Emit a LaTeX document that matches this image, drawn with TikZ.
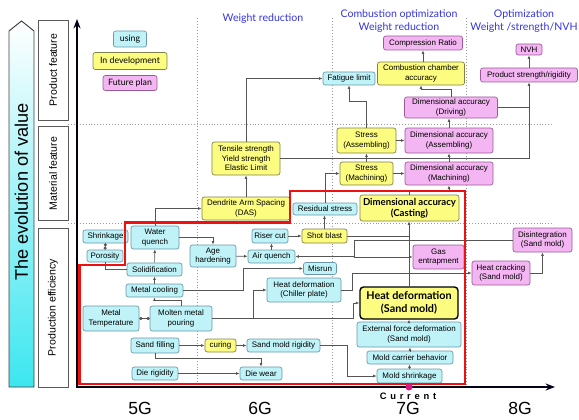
\documentclass[tikz,border=0pt]{standalone}
\usepackage{fontspec}
\setmainfont{Liberation Sans}
\newfontfamily\humfont{Lato}
\usetikzlibrary{arrows.meta}
\definecolor{cyfill}{HTML}{BFF3F8}
\definecolor{cyline}{HTML}{6A98A8}
\definecolor{yefill}{HTML}{FCFC80}
\definecolor{yeline}{HTML}{80804A}
\definecolor{pkfill}{HTML}{F4B6F2}
\definecolor{pkline}{HTML}{9A5A9A}
\definecolor{conn}{HTML}{555555}
\definecolor{headblue}{HTML}{3535E0}
\definecolor{cyarrow}{HTML}{3CE6F0}
\definecolor{redframe}{HTML}{EE1111}
\tikzset{sz/.style 2 args={minimum width=#1*0.3mm, minimum height=#2*0.3mm}}

\begin{document}
\begin{tikzpicture}[x=0.3mm,y=-0.3mm,
  box/.style={draw, rounded corners=2pt, align=center, font=\fontsize{6.8}{8}\selectfont, inner sep=1pt, line width=0.6pt},
  usebox/.style={box, fill=cyfill, draw=cyline},
  devbox/.style={box, fill=yefill, draw=yeline},
  planbox/.style={box, fill=pkfill, draw=pkline},
  arr/.style={-{Latex[length=3pt,width=2.4pt]}, draw=conn, line width=0.55pt},
  lnk/.style={draw=conn, line width=0.55pt},
  dotlink/.style={{Circle[length=2.6pt]}-{Circle[length=2.6pt]}, draw=conn, line width=0.55pt},
  sidebox/.style={draw=gray!70!black, fill=white, rotate=90, font=\fontsize{9}{10}\selectfont, line width=0.7pt, inner sep=0pt},
  headtxt/.style={text=headblue, font=\humfont\fontsize{9}{11}\selectfont, align=center},
  gentxt/.style={font=\fontsize{15}{15}\selectfont},
  gridline/.style={gray!80, dotted, line width=0.5pt}]
\useasboundingbox (0,0) rectangle (579,419);

% value arrow and side labels
\shade[top color=white, bottom color=cyarrow, draw=black!75, line width=0.8pt]
  (9,387) -- (9,31) -- (21.5,21) -- (34,31) -- (34,387) -- cycle;
\node[rotate=90, font=\fontsize{15.5}{16}\selectfont] (EV) at (21.5,192) {The evolution of value};
\node[sidebox, sz={100}{30}] (PF) at (53,70) {Product feature};
\node[sidebox, sz={94}{30}] (MF) at (53,173.5) {Material feature};
\node[sidebox, sz={159}{30}] (PE) at (53,307.5) {Production efficiency};

% grid
\draw[gridline] (68,124) -- (553,124);
\draw[gridline] (68,223) -- (553,223);
\foreach \gx in {197,332,466}
  \draw[gridline] (\gx,18) -- (\gx,386);

% headings
\node[headtxt] (H6) at (263,19) {Weight reduction};
\node[headtxt] (H7) at (399,21) {Combustion optimization\\Weight reduction};
\node[headtxt] (H8) at (524,21) {Optimization\\Weight /strength/NVH};

% legend
\node[usebox, sz={33}{16}, font=\humfont\fontsize{7.5}{9}\selectfont] (LU) at (130,39) {using};
\node[devbox, sz={74}{17}, font=\humfont\fontsize{7.5}{9}\selectfont] (LD) at (130,61) {In development};
\node[planbox, sz={54}{15}, font=\humfont\fontsize{7.5}{9}\selectfont] (LF) at (130,83) {Future plan};

% product feature
\node[planbox, sz={79}{14}] (CR) at (423,43) {Compression Ratio};
\node[devbox, sz={87}{23}] (CCA) at (421,73.5) {Combustion chamber\\accuracy};
\node[usebox, sz={52}{13}] (FL) at (349,78.5) {Fatigue limit};
\node[planbox, sz={26}{11}] (NVH) at (529,49.5) {NVH};
\node[planbox, sz={97}{14}] (PSR) at (529,75) {Product strength/rigidity};
\node[planbox, sz={93}{21}] (DAD) at (451,107.5) {Dimensional accuracy\\(Driving)};

% material feature
\node[devbox, sz={68}{33}] (TS) at (246,158.5) {Tensile strength\\Yield strength\\Elastic Limit};
\node[devbox, sz={59}{25}] (SA) at (366.5,140.5) {Stress\\(Assembling)};
\node[planbox, sz={88}{25}] (DAA) at (449,140.5) {Dimensional accuracy\\(Assembling)};
\node[devbox, sz={53}{23}] (SM) at (366.5,173.5) {Stress\\(Machining)};
\node[planbox, sz={88}{23}] (DAM) at (449,173.5) {Dimensional accuracy\\(Machining)};
\node[devbox, sz={88}{23}] (DAS) at (246,208.5) {Dendrite Arm Spacing\\(DAS)};
\node[usebox, sz={64}{12}] (RS) at (325,209) {Residual stress};
\node[devbox, sz={99}{26}, font=\humfont\bfseries\fontsize{8.2}{9.5}\selectfont] (DAC) at (409.5,208) {Dimensional accuracy\\(Casting)};

% production efficiency
\node[usebox, sz={45}{13}] (SH) at (105.5,236.5) {Shrinkage};
\node[usebox, sz={36}{12}] (PO) at (105,256) {Porosity};
\node[usebox, sz={48}{23}] (WQ) at (155,237.5) {Water\\quench};
\node[usebox, sz={55}{13}] (SO) at (154.5,269.5) {Solidification};
\node[usebox, sz={46}{22}] (AH) at (213,256) {Age\\hardening};
\node[usebox, sz={57}{13}] (MC) at (154.5,290.5) {Metal cooling};
\node[usebox, sz={56}{25}] (MT) at (111,318.5) {Metal\\Temperature};
\node[usebox, sz={62}{25}] (MP) at (181,318.5) {Molten metal\\pouring};
\node[usebox, sz={48}{15}] (SF) at (155,345.5) {Sand filling};
\node[usebox, sz={46}{13}] (DR) at (155,373.5) {Die rigidity};
\node[devbox, sz={31}{13}] (CU) at (220.5,345.5) {curing};
\node[usebox, sz={73}{13}] (SMR) at (283.5,345.5) {Sand mold rigidity};
\node[usebox, sz={42}{13}] (DW) at (261,373.5) {Die wear};
\node[usebox, sz={36}{14}] (RC) at (270,236) {Riser cut};
\node[devbox, sz={45}{14}] (SB) at (324.5,236) {Shot blast};
\node[usebox, sz={47}{13}] (AQ) at (271.5,256.5) {Air quench};
\node[usebox, sz={33}{12}] (MR) at (320,268.5) {Misrun};
\node[usebox, sz={74}{24}] (HDC) at (304,290) {Heat deformation\\(Chiller plate)};
\node[planbox, sz={51}{24}] (GE) at (438.5,257) {Gas\\entrapment};
\node[planbox, sz={59}{24}] (DI) at (542.5,240) {Disintegration\\(Sand mold)};
\node[planbox, sz={58}{24}] (HC) at (501,273) {Heat cracking\\(Sand mold)};
\node[devbox, sz={98}{32}, draw=black, line width=1.2pt, rounded corners=3pt, font=\humfont\bfseries\fontsize{9.2}{11}\selectfont] (HDS) at (409,303) {Heat deformation\\(Sand mold)};
\node[usebox, sz={104}{25}] (EFD) at (409,334.5) {External force deformation\\(Sand mold)};
\node[usebox, sz={86}{13}] (MCB) at (410,357.5) {Mold carrier behavior};
\node[usebox, sz={65}{14}] (MS) at (409.5,376) {Mold shrinkage};

% connectors, product and material
\draw[arr] (CR.south |- CCA.north) -- (CR.south);
\draw[arr] (DAD.north) -- ++(0,-7) -| (CCA.south);
\draw[arr] (TS.east) -| (PSR.south);
\draw[lnk] (DAD.east) -- (DAD.east -| PSR.south);
\draw[arr] (PSR.north) -- (NVH.south);
\draw[arr] (SA.north) -- ++(0,-26) -| (FL.south);
\draw[arr] (SA) -- (DAA);
\draw[arr] (SM) -- (DAM);
\draw[arr] (SM) -- (SA);
\draw[arr] (DAM) -- (DAA);
\draw[arr] (DAA.north) -- (DAA.north |- DAD.south);
\draw[arr] (DAC.north) -- ++(0,-4) -| (DAM.south);
\draw[arr] (RS.north) |- (SM.west);
\draw[arr] (SB.north) -- (SB.north |- RS.south);
\draw[arr] (DAS) -- (TS);
\draw[arr] (TS.north) |- (FL.west);
\draw[arr] (WQ.north) |- (DAS.west);

% connectors, production
\draw[arr] (WQ.east) -| (AH.north);
\draw[arr] (SO) -- (WQ);
\draw[arr] (MC) -- (SO);
\draw[arr] (MP.north) -- ++(0,-5) -| (MC.south);
\draw[lnk] (SO.west) -| (PO.south);
\draw[dotlink] (SH.south) -- (PO.north);
\draw[dotlink] (MT) -- (MP);
\draw[arr] (MC.east) -- ++(60,0) |- (MR.west);
\draw[arr] (AH) -- (AQ);
\draw[arr] (AQ.north) -- (AQ.north |- RC.south);
\draw[arr] (RC) -- (SB);
\draw[arr] (SF) -- (CU);
\draw[arr] (CU) -- (SMR);
\draw[arr] (SF.south) -- ++(0,5) -| (DW.north);
\draw[arr] (DR) -- (DW);
\draw[arr] (SMR.east) -- ++(27,0) |- (MS.west);
\draw[arr] (MS.north) -- (MS.north |- MCB.south);
\draw[arr] (MCB.north) -- (MCB.north |- EFD.south);
\draw[arr] (EFD) -- (HDS);
\draw[arr] (HDS.north) -- (HDS.north |- DAC.south);
\draw[arr] (MP.east) -- ++(141,0) |- (HDS.west);
\draw[arr] (MP.east) ++(41,0) |- (HDC.west);
\draw[lnk] (SB.east) -- (SB.east -| HDS.north);
\draw[arr] (DI.west) -- ++(-158,0) |- (AQ.east);
\draw[arr] (DI.west) ++(-158,0) |- (GE.west);
\draw[arr] (HDC.east) -- ++(11,0) |- (HC.west);
\draw[arr] (HC.east) -| (DI.south);

% axes and red frame
\draw[black!90!blue, line width=1.8pt, -{Stealth[length=8pt,width=6pt]}] (77,387) -- (77,19);
\draw[black!90!blue, line width=1.8pt, -{Stealth[length=8pt,width=6pt]}] (76,387) -- (555,387);
\draw[redframe, line width=2.2pt, line join=miter]
  (79.5,384) -- (79.5,265) -- (125,265) -- (125,222.5) -- (290,222.5) -- (290,191)
  -- (465,191) -- (465,384) -- cycle;
\fill[magenta!80!violet] (409,387) circle (3.5);

% generations
\node[font=\fontsize{8}{9}\selectfont\bfseries] (CUR) at (408,396.5)
  {C\hspace{3.2pt}u\hspace{3.2pt}r\hspace{3.2pt}r\hspace{3.2pt}e\hspace{3.2pt}n\hspace{3.2pt}t};
\node[gentxt] (G5) at (140,408) {5G};
\node[gentxt] (G6) at (260,408) {6G};
\node[gentxt] (G7) at (408,408) {7G};
\node[gentxt] (G8) at (520,408) {8G};
\end{tikzpicture}
\end{document}
